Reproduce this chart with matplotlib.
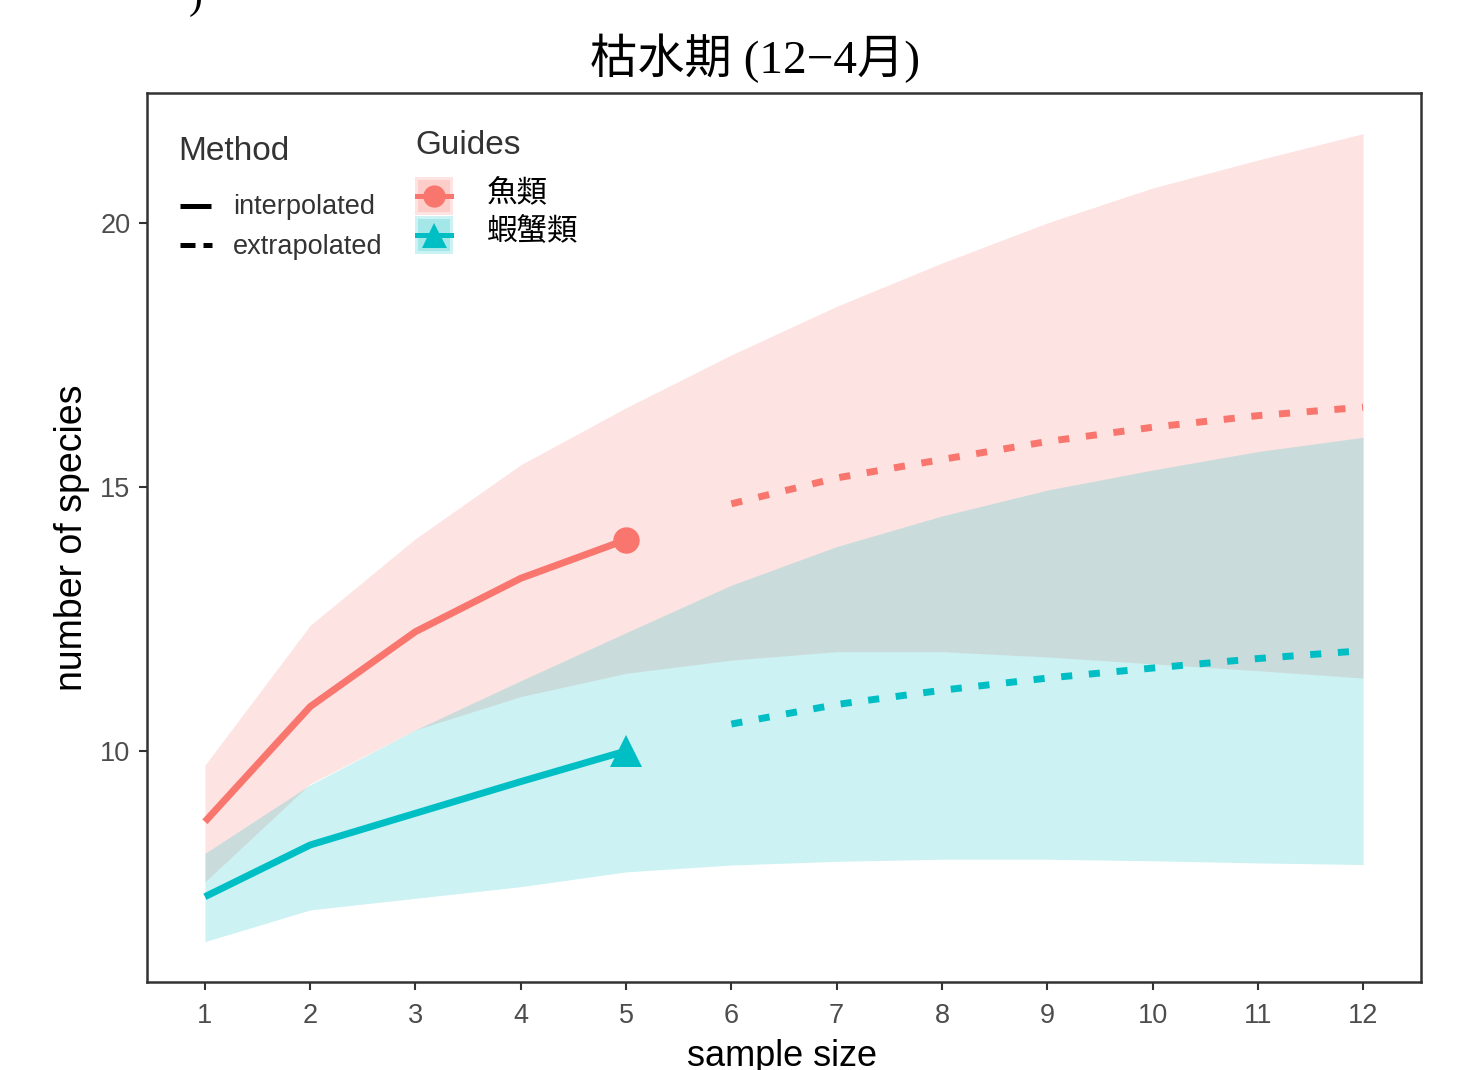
import numpy as np
import matplotlib
matplotlib.use("Agg")
import matplotlib.pyplot as plt
from matplotlib.patches import Rectangle

plt.rcParams["font.family"] = ["Liberation Sans", "Noto Sans CJK TC"]

# sample sizes
x_interp = [1, 2, 3, 4, 5]
x_extrap = [6, 7, 8, 9, 10, 11, 12]
x_all = [1, 2, 3, 4, 5, 6, 7, 8, 9, 10, 11, 12]

# estimated number of species
fish_interp = [8.66, 10.84, 12.26, 13.27, 14.0]
crab_interp = [7.24, 8.22, 8.82, 9.42, 10.0]
fish_extrap = [14.68, 15.17, 15.52, 15.86, 16.13, 16.35, 16.51]
crab_extrap = [10.51, 10.88, 11.15, 11.38, 11.57, 11.75, 11.90]

# 95% confidence bands
fish_lo = [7.52, 9.38, 10.40, 11.03, 11.47, 11.72, 11.88, 11.88, 11.78, 11.65, 11.52, 11.38]
fish_hi = [9.73, 12.38, 14.02, 15.42, 16.5, 17.5, 18.42, 19.24, 20.0, 20.66, 21.19, 21.69]
crab_lo = [6.39, 6.99, 7.21, 7.43, 7.71, 7.84, 7.91, 7.95, 7.95, 7.92, 7.88, 7.85]
crab_hi = [8.06, 9.36, 10.40, 11.33, 12.24, 13.14, 13.87, 14.45, 14.94, 15.32, 15.67, 15.94]

group_names = ["魚類", "蝦蟹類"]
method_names = ["interpolated", "extrapolated"]
x_ticks = list(range(1, 13))
y_ticks = [10, 15, 20]

fish_col = "#F8766D"
crab_col = "#00BFC4"

W, H, DPI = 1467, 1070, 100
fig = plt.figure(figsize=(W / DPI, H / DPI), dpi=DPI)
ax = fig.add_axes([147 / W, 1 - 982 / H, (1421 - 147) / W, (982 - 93) / H])

# ribbons
ax.fill_between(x_all, fish_lo, fish_hi, color=fish_col, alpha=0.2, lw=0)
ax.fill_between(x_all, crab_lo, crab_hi, color=crab_col, alpha=0.2, lw=0)

# curves
for xs, ys, col in [(x_interp, fish_interp, fish_col), (x_interp, crab_interp, crab_col)]:
    ax.plot(xs, ys, color=col, lw=5, solid_capstyle="butt")
for xs, ys, col in [(x_extrap, fish_extrap, fish_col), (x_extrap, crab_extrap, crab_col)]:
    ax.plot(xs, ys, color=col, lw=5, dashes=(1.6, 2.4), dash_capstyle="butt")

# observed points
ax.plot(x_interp[-1], fish_interp[-1], "o", color=fish_col, ms=19, mew=0)
ax.plot(x_interp[-1], crab_interp[-1], "^", color=crab_col, ms=23, mew=0)

ax.set_xlim(0.45, 12.55)
ax.set_ylim(5.625, 22.46)
ax.set_xticks(x_ticks)
ax.set_yticks(y_ticks)
ax.tick_params(axis="both", length=6, width=1.5, color="#333333",
               labelcolor="#4D4D4D", labelsize=19.5)
ax.tick_params(axis="x", pad=9)
ax.tick_params(axis="y", pad=6)
for sp in ax.spines.values():
    sp.set_linewidth(1.8)
    sp.set_color("#333333")

ax.set_xlabel("sample size", fontsize=26, va="center")
ax.set_ylabel("number of species", fontsize=27, va="center")
ax.xaxis.set_label_coords((782 - 147) / 1274, -(1057 - 982) / 889)
ax.yaxis.set_label_coords(-(147 - 72) / 1274, 0.5)

# title and a clipped fragment of a panel label above it
fig.text(755 / W, 1 - 58 / H, "枯水期 (12−4月)", fontsize=34, ha="center", va="center",
         family=["Liberation Serif", "Noto Sans CJK TC"])
fig.text(196 / W, 1 - 8 / H, ")", fontsize=30, ha="center", va="baseline",
         family="Liberation Serif")

# legend drawn in pixel space
lg = fig.add_axes([0, 0, 1, 1], facecolor="none")
lg.set_xlim(0, W)
lg.set_ylim(H, 0)
lg.axis("off")

lg.text(178, 151, "Method", fontsize=24, color="#333333", va="center", ha="left")
lg.plot([180, 211], [206, 206], color="black", lw=3.6, solid_capstyle="butt")
lg.plot([180, 212], [245, 245], color="black", lw=3.6, dashes=(3, 1.6), dash_capstyle="butt")
for lab, y in zip(method_names, [207, 247]):
    lg.text(233, y, lab, fontsize=19.5, color="#333333", va="center", ha="left")

lg.text(415, 145, "Guides", fontsize=24, color="#333333", va="center", ha="left")
for col, mk, ms, y0, lab in [(fish_col, "o", 16, 177, group_names[0]),
                             (crab_col, "^", 18, 216, group_names[1])]:
    lg.add_patch(Rectangle((415, y0), 38, 38, facecolor=col, alpha=0.2, lw=0))
    lg.add_patch(Rectangle((418, y0 + 3), 32, 32, facecolor=col, alpha=0.2, lw=0))
    yc = y0 + 19
    lg.plot([417, 451], [yc, yc], color=col, lw=3.6)
    lg.plot(434, yc, mk, color=col, ms=ms, mew=0)
    lg.text(487, yc - 3, lab, fontsize=22, color="black", va="center", ha="left")

fig.savefig("out.png", dpi=DPI)
